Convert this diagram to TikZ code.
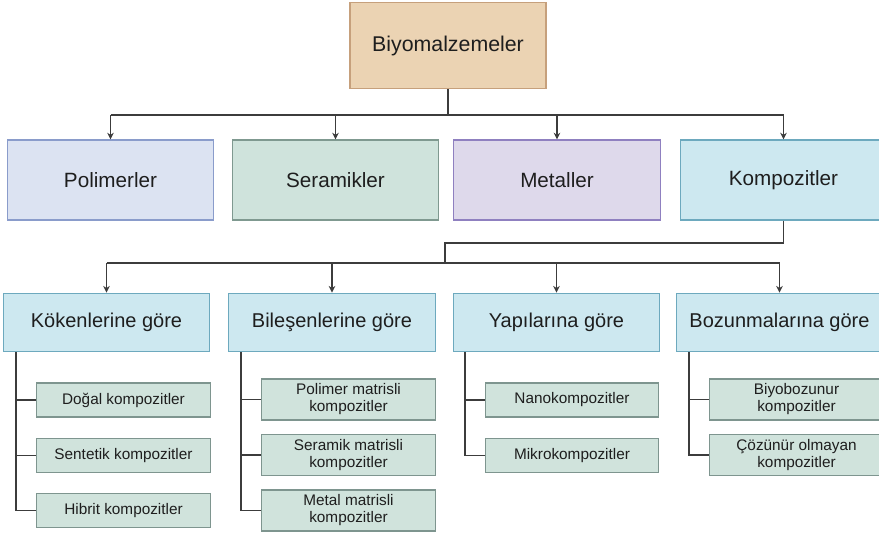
\documentclass[tikz,border=0pt]{standalone}
\usepackage{fontspec}
\setmainfont{Liberation Sans}
\usetikzlibrary{arrows.meta}

\definecolor{textgray}{HTML}{1E1E1E}
\definecolor{linegray}{HTML}{3C3C3C}
\definecolor{tanfill}{HTML}{EBD3B3}
\definecolor{tandraw}{HTML}{C6A07C}
\definecolor{polfill}{HTML}{DCE3F2}
\definecolor{poldraw}{HTML}{8A9CCB}
\definecolor{serfill}{HTML}{CFE3DC}
\definecolor{serdraw}{HTML}{7F9990}
\definecolor{metfill}{HTML}{DED9EB}
\definecolor{metdraw}{HTML}{8F80C0}
\definecolor{kompfill}{HTML}{CDE8F0}
\definecolor{kompdraw}{HTML}{6DA9BE}
\definecolor{subfill}{HTML}{D0E3DC}
\definecolor{subdraw}{HTML}{7E958F}

\begin{document}
\begin{tikzpicture}[x=0.75pt,y=-0.75pt,
    box/.style={draw, line width=0.9pt, text=textgray, align=center, inner sep=0pt},
    topbox/.style={box, fill=tanfill, draw=tandraw, minimum width=147pt, minimum height=65pt,
        font=\fontsize{16}{20}\selectfont},
    mainbox/.style={box, minimum width=155pt, minimum height=60pt,
        font=\fontsize{15.5}{18}\selectfont},
    groupbox/.style={box, fill=kompfill, draw=kompdraw, minimum width=155pt, minimum height=44pt,
        font=\fontsize{15}{18}\selectfont},
    subbox/.style={box, fill=subfill, draw=subdraw, minimum width=130pt, minimum height=25.5pt,
        font=\fontsize{11.5}{12.75}\selectfont},
    subtwo/.style={subbox, minimum height=30.75pt},
    line/.style={draw=linegray, line width=1pt},
    arrow/.style={line, -{Stealth[length=5pt,width=5pt]}}]
    \useasboundingbox (0,0) rectangle (879,537);

    % top
    \node[topbox] (bio) at (448,45.5) {Biyomalzemeler};

    % main classes
    \node[mainbox, fill=polfill, draw=poldraw] (pol) at (110.5,180) {Polimerler};
    \node[mainbox, fill=serfill, draw=serdraw] (ser) at (335.5,180) {Seramikler};
    \node[mainbox, fill=metfill, draw=metdraw] (met) at (557,180) {Metaller};
    \node[mainbox, fill=kompfill, draw=kompdraw] (komp) at (783.5,180) {Kompozitler};

    \coordinate (bus1) at (448,115);
    \draw[line] (bio.south) -- (bus1);
    \draw[line] (pol.north |- bus1) -- (komp.north |- bus1);
    \foreach \n in {pol,ser,met,komp}
        \draw[arrow] (\n.north |- bus1) -- (\n.north);

    % composite groups
    \node[groupbox] (kok) at (106.5,322.5) {Kökenlerine göre};
    \node[groupbox] (bil) at (332,322.5) {Bileşenlerine göre};
    \node[groupbox] (yap) at (556.5,322.5) {Yapılarına göre};
    \node[groupbox] (boz) at (779.5,322.5) {Bozunmalarına göre};

    \coordinate (kink) at (445,243);
    \coordinate (bus2) at (445,263);
    \draw[line] (komp.south) |- (kink) -- (bus2);
    \draw[line] (kok.north |- bus2) -- (boz.north |- bus2);
    \foreach \n in {kok,bil,yap,boz}
        \draw[arrow] (\n.north |- bus2) -- (\n.north);

    % sub items
    \node[subbox] (dogal) at (123.5,400) {Doğal kompozitler};
    \node[subbox] (sentetik) at (123.5,455.5) {Sentetik kompozitler};
    \node[subbox] (hibrit) at (123.5,510.5) {Hibrit kompozitler};

    \node[subtwo] (polmat) at (348.5,399.5) {Polimer matrisli\\kompozitler};
    \node[subtwo] (sermat) at (348.5,455) {Seramik matrisli\\kompozitler};
    \node[subtwo] (metmat) at (348.5,510.5) {Metal matrisli\\kompozitler};

    \node[subbox] (nano) at (572,400) {Nanokompozitler};
    \node[subbox] (mikro) at (572,455.5) {Mikrokompozitler};

    \node[subtwo] (biyo) at (796.5,399.5) {Biyobozunur\\kompozitler};
    \node[subtwo] (cozun) at (796.5,455) {Çözünür olmayan\\kompozitler};

    \coordinate (kokT) at (16,352);
    \coordinate (bilT) at (241,352);
    \coordinate (yapT) at (465,352);
    \coordinate (bozT) at (689,352);
    \foreach \c in {dogal,sentetik,hibrit}
        \draw[line] (kokT) |- (\c.west);
    \foreach \c in {polmat,sermat,metmat}
        \draw[line] (bilT) |- (\c.west);
    \foreach \c in {nano,mikro}
        \draw[line] (yapT) |- (\c.west);
    \foreach \c in {biyo,cozun}
        \draw[line] (bozT) |- (\c.west);
\end{tikzpicture}
\end{document}
